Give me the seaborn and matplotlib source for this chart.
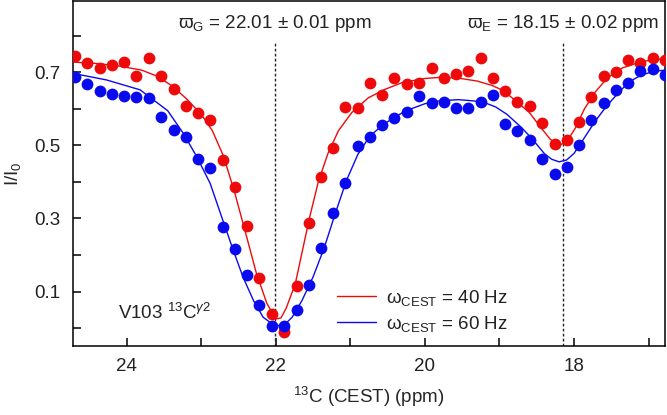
import matplotlib
matplotlib.use('Agg')
import matplotlib.pyplot as plt
import pandas as pd
import seaborn as sns
from matplotlib.ticker import FixedLocator

# CEST offsets (ppm) of the measured points
ppm = [24.69, 24.53, 24.36, 24.20, 24.03, 23.87, 23.70, 23.54, 23.37, 23.21,
       23.04, 22.88, 22.71, 22.55, 22.38, 22.22, 22.05, 21.89, 21.72, 21.56,
       21.40, 21.23, 21.07, 20.90, 20.74, 20.57, 20.41, 20.24, 20.08, 19.91,
       19.75, 19.58, 19.42, 19.25, 19.09, 18.92, 18.76, 18.59, 18.43, 18.26,
       18.10, 17.93, 17.77, 17.60, 17.44, 17.27, 17.11, 16.94, 16.78]

red_pts = [0.745, 0.726, 0.711, 0.720, 0.727, 0.691, 0.738, 0.690, 0.653, 0.608,
           0.588, 0.569, 0.460, 0.385, 0.280, 0.137, 0.038, -0.011, 0.114, 0.288,
           0.414, 0.492, 0.604, 0.601, 0.672, 0.638, 0.684, 0.667, 0.672, 0.711,
           0.684, 0.695, 0.704, 0.738, 0.685, 0.650, 0.618, 0.608, 0.562, 0.503,
           0.515, 0.565, 0.633, 0.690, 0.700, 0.734, 0.726, 0.738, 0.734]

blue_pts = [0.686, 0.668, 0.650, 0.641, 0.635, 0.633, 0.629, 0.578, 0.542, 0.524,
            0.462, 0.437, 0.278, 0.217, 0.145, 0.064, 0.007, 0.006, 0.050, 0.118,
            0.219, 0.316, 0.397, 0.498, 0.524, 0.556, 0.574, 0.592, 0.635, 0.617,
            0.618, 0.601, 0.601, 0.619, 0.637, 0.558, 0.540, 0.515, 0.464, 0.421,
            0.441, 0.501, 0.569, 0.615, 0.652, 0.672, 0.704, 0.708, 0.693]

# fitted curves
red_fit_ppm = [24.72, 24.4, 24.1, 23.8, 23.6, 23.4, 23.2, 23.0, 22.85, 22.7,
               22.55, 22.4, 22.26, 22.12, 22.0, 21.93, 21.86, 21.74, 21.65, 21.55,
               21.43, 21.3, 21.16, 20.98, 20.76, 20.54, 20.3, 20.0, 19.8, 19.55,
               19.3, 19.1, 18.95, 18.8, 18.6, 18.45, 18.32, 18.2, 18.1, 17.98,
               17.86, 17.72, 17.55, 17.35, 17.1, 16.9, 16.78]
red_fit = [0.728, 0.724, 0.717, 0.706, 0.690, 0.664, 0.628, 0.585, 0.54, 0.47,
           0.37, 0.257, 0.15, 0.068, 0.025, 0.028, 0.055, 0.12, 0.205, 0.30,
           0.40, 0.478, 0.54, 0.59, 0.63, 0.653, 0.672, 0.683, 0.686, 0.684,
           0.676, 0.664, 0.65, 0.625, 0.59, 0.55, 0.517, 0.50, 0.51, 0.548,
           0.60, 0.645, 0.685, 0.712, 0.729, 0.735, 0.737]

blue_fit_ppm = [24.72, 24.27, 23.82, 23.69, 23.45, 23.24, 23.06, 22.88, 22.71, 22.57,
                22.44, 22.30, 22.17, 22.03, 21.95, 21.87, 21.78, 21.65, 21.5, 21.35,
                21.2, 21.05, 20.9, 20.74, 20.57, 20.41, 20.25, 20.0, 19.8, 19.55,
                19.36, 19.2, 19.05, 18.9, 18.7, 18.55, 18.4, 18.3, 18.2, 18.1,
                18.0, 17.88, 17.72, 17.57, 17.4, 17.26, 17.1, 16.94, 16.78]
blue_fit = [0.697, 0.679, 0.652, 0.632, 0.595, 0.533, 0.469, 0.396, 0.295, 0.213,
            0.140, 0.076, 0.030, 0.009, 0.007, 0.012, 0.03, 0.075, 0.14, 0.22,
            0.315, 0.405, 0.475, 0.525, 0.555, 0.577, 0.595, 0.614, 0.622, 0.625,
            0.622, 0.617, 0.605, 0.585, 0.548, 0.515, 0.478, 0.462, 0.455, 0.46,
            0.478, 0.515, 0.565, 0.606, 0.645, 0.674, 0.692, 0.702, 0.706]

dips = [22.01, 18.15]
dip_labels = [r'$\mathrm{\varpi}_{\mathrm{G}}$ = 22.01 $\pm$ 0.01 ppm',
              r'$\mathrm{\varpi}_{\mathrm{E}}$ = 18.15 $\pm$ 0.02 ppm']
legend_labels = [r'ω$_{\mathrm{CEST}}$ = 40 Hz', r'ω$_{\mathrm{CEST}}$ = 60 Hz']
red, blue = '#ee0a0a', '#0a0aee'

sns.set_theme(style='ticks')
plt.rcParams.update({
    'font.family': ['Liberation Sans', 'DejaVu Sans'],
    'mathtext.fontset': 'custom',
    'mathtext.rm': 'Liberation Sans',
    'mathtext.it': 'Liberation Sans:italic',
    'mathtext.bf': 'Liberation Sans:bold',
    'mathtext.fallback': 'stixsans',
    'font.size': 13.5,
    'axes.linewidth': 1.1,
    'axes.edgecolor': 'black',
    'text.color': '#222222',
})

pts = pd.DataFrame({'ppm': ppm, 'red': red_pts, 'blue': blue_pts})
rfit = pd.DataFrame({'ppm': red_fit_ppm, 'I': red_fit})
bfit = pd.DataFrame({'ppm': blue_fit_ppm, 'I': blue_fit})

fig = plt.figure(figsize=(6.67, 4.15), dpi=100)
ax = fig.add_axes([0.1094, 0.167, 0.8876, 0.8306])

sns.scatterplot(data=pts, x='ppm', y='red', color=red, s=72, linewidth=0, ax=ax, zorder=3)
sns.scatterplot(data=pts, x='ppm', y='blue', color=blue, s=72, linewidth=0, ax=ax, zorder=3)
sns.lineplot(data=rfit, x='ppm', y='I', color=red, lw=1.0, sort=False, estimator=None, ax=ax, zorder=4)
sns.lineplot(data=bfit, x='ppm', y='I', color=blue, lw=1.0, sort=False, estimator=None, ax=ax, zorder=4)

for d, lab in zip(dips, dip_labels):
    ax.vlines(d, -0.05, 0.783, colors='#222222', linestyles=(0, (2, 1.6)), lw=1.0, zorder=2)
    ax.text(d, 0.936, lab, transform=ax.get_xaxis_transform(), ha='center', va='center')

ax.text(0.076, 0.095, r'V103 $^{13}$C$^{\gamma2}$', transform=ax.transAxes, ha='left', va='center')

ax.set_xlim(24.72, 16.78)
ax.set_ylim(-0.048, 0.895)
ax.xaxis.set_major_locator(FixedLocator([24, 22, 20, 18]))
ax.xaxis.set_minor_locator(FixedLocator([23, 21, 19, 17]))
ax.yaxis.set_major_locator(FixedLocator([0.1, 0.3, 0.5, 0.7]))
ax.yaxis.set_minor_locator(FixedLocator([0.0, 0.2, 0.4, 0.6, 0.8]))
ax.tick_params(which='both', direction='in', length=6, width=1.1, color='black', pad=9,
               labelsize=13.5, labelcolor='#222222')
ax.set_xlabel(r'$^{13}$C (CEST) (ppm)', fontsize=13.5, labelpad=7)
ax.set_ylabel(r'I/I$_0$', fontsize=13.5, labelpad=8)

handles = ax.get_lines()[:2]
ax.legend(handles, legend_labels, loc='lower left', bbox_to_anchor=(0.446, 0.035),
          frameon=False, borderpad=0, borderaxespad=0, handlelength=2.1,
          handletextpad=0.5, labelspacing=0.3, fontsize=13.5)

fig.savefig('out.png', dpi=100)
